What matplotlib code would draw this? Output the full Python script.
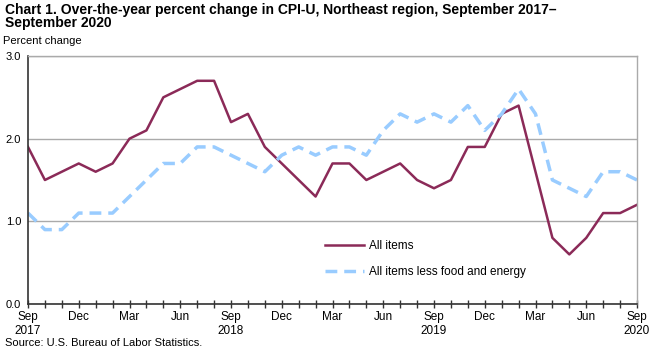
import matplotlib
matplotlib.use('Agg')
import matplotlib.pyplot as plt
import numpy as np

# monthly data, Sep 2017 - Sep 2020
all_items = [1.9, 1.5, 1.6, 1.7, 1.6, 1.7, 2.0, 2.1, 2.5, 2.6, 2.7, 2.7,
             2.2, 2.3, 1.9, 1.7, 1.5, 1.3, 1.7, 1.7, 1.5, 1.6, 1.7, 1.5,
             1.4, 1.5, 1.9, 1.9, 2.3, 2.4, 1.6, 0.8, 0.6, 0.8, 1.1, 1.1, 1.2]
core = [1.1, 0.9, 0.9, 1.1, 1.1, 1.1, 1.3, 1.5, 1.7, 1.7, 1.9, 1.9,
        1.8, 1.7, 1.6, 1.8, 1.9, 1.8, 1.9, 1.9, 1.8, 2.1, 2.3, 2.2,
        2.3, 2.2, 2.4, 2.1, 2.3, 2.6, 2.3, 1.5, 1.4, 1.3, 1.6, 1.6, 1.5]
tick_labels = ['Sep\n2017', 'Dec', 'Mar', 'Jun', 'Sep\n2018', 'Dec', 'Mar', 'Jun',
               'Sep\n2019', 'Dec', 'Mar', 'Jun', 'Sep\n2020']

plt.rcParams['font.family'] = ['Liberation Sans', 'DejaVu Sans']

fig = plt.figure(figsize=(6.5, 3.51), dpi=100)
ax = fig.add_axes([28/650, (351-304)/351, (637-28)/650, (304-56)/351])

x = np.arange(len(all_items))
ax.plot(x, all_items, color='#8B2A58', lw=1.8, label='All items')
ax.plot(x, core, color='#99CCFF', lw=2.5, dashes=(3.4, 2), label='All items less food and energy')

ax.set_xlim(0, len(all_items) - 1)
ax.set_ylim(0, 3)
ax.set_yticks([0, 1, 2, 3])
ax.set_yticklabels(['0.0', '1.0', '2.0', '3.0'], fontsize=8)
ax.set_xticks(x, minor=True)
ax.set_xticks(x[::3])
ax.set_xticklabels(tick_labels, fontsize=8.5)
ax.tick_params(axis='x', which='both', direction='inout', length=6, width=1, color='#333333', pad=2)
ax.tick_params(axis='y', length=0, pad=5)
ax.grid(axis='y', color='#AAAAAA', lw=1)
ax.set_axisbelow(True)
for s in ['left', 'bottom']:
    ax.spines[s].set_color('#333333')
    ax.spines[s].set_linewidth(1.2)
for s in ['top', 'right']:
    ax.spines[s].set_color('#AAAAAA')
    ax.spines[s].set_linewidth(1)

ax.legend(loc='upper left', bbox_to_anchor=(0.47, 0.3), frameon=False, fontsize=8.5,
          handlelength=3.3, labelspacing=1.2, handletextpad=0.4)

fig.text(5/650, 1 - 3/351, 'Chart 1. Over-the-year percent change in CPI-U, Northeast region, September 2017\u2013\nSeptember 2020',
         fontsize=10, fontweight='bold', va='top', ha='left', linespacing=0.95)
fig.text(3/650, 1 - 36/351, 'Percent change', fontsize=8, va='top', ha='left')
fig.text(5/650, 1 - 338/351, 'Source: U.S. Bureau of Labor Statistics.', fontsize=8, va='top', ha='left')

fig.savefig('out.png', dpi=100)
